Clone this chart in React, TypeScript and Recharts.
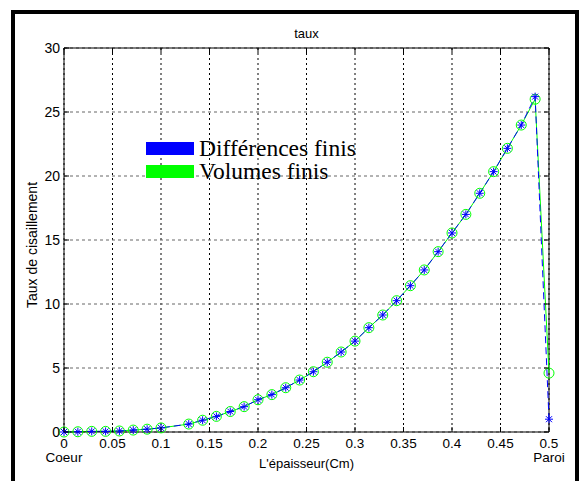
import { LineChart, Line, XAxis, YAxis, CartesianGrid, Legend, ReferenceLine } from "recharts";

// épaisseur (Cm) — the point at 0.114 is absent in the source figure
const epaisseur = [
  0, 0.0143, 0.0286, 0.0429, 0.0571, 0.0714, 0.0857, 0.1, 0.1286, 0.1429, 0.1571, 0.1714,
  0.1857, 0.2, 0.2143, 0.2286, 0.2429, 0.2571, 0.2714, 0.2857, 0.3, 0.3143, 0.3286, 0.3429,
  0.3571, 0.3714, 0.3857, 0.4, 0.4143, 0.4286, 0.4429, 0.4571, 0.4714, 0.4857, 0.5,
];
const differencesFinis = [
  0, 0.02, 0.05, 0.05, 0.08, 0.15, 0.22, 0.32, 0.62, 0.92, 1.22, 1.6,
  1.98, 2.52, 2.92, 3.46, 4.06, 4.71, 5.45, 6.25, 7.1, 8.15, 9.14, 10.26,
  11.43, 12.66, 14.09, 15.55, 17.0, 18.65, 20.34, 22.16, 23.98, 26.2, 1.0,
];
const volumesFinis = [
  0, 0.02, 0.05, 0.05, 0.08, 0.15, 0.22, 0.32, 0.62, 0.92, 1.22, 1.6,
  1.98, 2.52, 2.92, 3.46, 4.06, 4.71, 5.45, 6.25, 7.1, 8.15, 9.14, 10.26,
  11.43, 12.66, 14.09, 15.55, 17.0, 18.65, 20.34, 22.16, 23.98, 26.0, 4.6,
];
const xTicks = [0, 0.05, 0.1, 0.15, 0.2, 0.25, 0.3, 0.35, 0.4, 0.45, 0.5];
const yTicks = [0, 5, 10, 15, 20, 25, 30];
const xEndLabels: Record<string, string> = { "0": "Coeur", "0.5": "Paroi" };
const seriesNames = ["Différences finis", "Volumes finis"];

const data = epaisseur.map((x, i) => ({ x, df: differencesFinis[i], vf: volumesFinis[i] }));

const AXIS_FONT = "'Liberation Sans', Arial, sans-serif";
const PLOT_TOP = 48;
const PLOT_BOTTOM = 432;
const PLOT_RIGHT = 549;

const XTick = (props: any) => {
  const { x, payload } = props;
  const v = payload.value;
  const extra = xEndLabels[String(v)];
  return (
    <g>
      <line x1={x} x2={x} y1={PLOT_BOTTOM} y2={PLOT_BOTTOM - 5} stroke="#000" />
      <line x1={x} x2={x} y1={PLOT_TOP} y2={PLOT_TOP + 5} stroke="#000" />
      <text x={x} y={PLOT_BOTTOM + 16} textAnchor="middle" fontSize={13.5} fontFamily={AXIS_FONT} fill="#000">
        {String(v)}
      </text>
      {extra && (
        <text x={x} y={PLOT_BOTTOM + 30} textAnchor="middle" fontSize={13.5} fontFamily={AXIS_FONT} fill="#000">
          {extra}
        </text>
      )}
    </g>
  );
};

const YTick = (props: any) => {
  const { x, y, payload } = props;
  return (
    <g>
      <line x1={x} x2={x + 5} y1={y} y2={y} stroke="#000" />
      <line x1={PLOT_RIGHT} x2={PLOT_RIGHT - 5} y1={y} y2={y} stroke="#000" />
      <text x={x - 4} y={y + 5} textAnchor="end" fontSize={14} fontFamily={AXIS_FONT} fill="#000">
        {payload.value}
      </text>
    </g>
  );
};

const YLabel = (props: any) => {
  const { viewBox } = props;
  const cx = viewBox.x + 32;
  const cy = viewBox.y + viewBox.height / 2 + 5;
  return (
    <text
      x={cx}
      y={cy}
      transform={`rotate(-90, ${cx}, ${cy})`}
      textAnchor="middle"
      dominantBaseline="central"
      fontSize={14}
      fontFamily={AXIS_FONT}
      fill="#000"
    >
      Taux de cisaillement
    </text>
  );
};

const StarDot = (props: any) => {
  const { cx, cy } = props;
  if (cx == null || cy == null) return null;
  return (
    <g stroke="#0000ff" strokeWidth={1}>
      <line x1={cx - 4} x2={cx + 4} y1={cy} y2={cy} />
      <line x1={cx} x2={cx} y1={cy - 4} y2={cy + 4} />
      <line x1={cx - 3} x2={cx + 3} y1={cy - 3} y2={cy + 3} />
      <line x1={cx - 3} x2={cx + 3} y1={cy + 3} y2={cy - 3} />
    </g>
  );
};

const CircleDot = (props: any) => {
  const { cx, cy } = props;
  if (cx == null || cy == null) return null;
  return <circle cx={cx} cy={cy} r={5} fill="none" stroke="#00ff00" strokeWidth={1} />;
};

const LegendBox = () => {
  const colors = ["#0000ff", "#00ff00"];
  return (
    <div style={{ fontFamily: "'Liberation Serif', 'Times New Roman', serif", fontSize: 23.5, color: "#000" }}>
      {seriesNames.map((name, i) => (
        <div key={name} style={{ display: "flex", alignItems: "center", height: 23, whiteSpace: "nowrap" }}>
          <span style={{ display: "inline-block", width: 48, height: 13, background: colors[i], marginRight: 5 }} />
          <span style={{ lineHeight: "23px" }}>{name}</span>
        </div>
      ))}
    </div>
  );
};

export default function App() {
  return (
    <div style={{ position: "fixed", left: 0, top: 0, width: 582, height: 481, background: "#fff", overflow: "hidden" }}>
      <div
        style={{
          position: "absolute",
          left: 11,
          top: 10,
          width: 568,
          height: 490,
          border: "4px solid #000",
          boxSizing: "border-box",
        }}
      />
      <div style={{ position: "absolute", left: 0, top: 0 }}>
        <LineChart width={582} height={481} data={data} margin={{ top: 48, right: 33, bottom: 0, left: 0 }}>
          <CartesianGrid horizontal={false} stroke="#000" strokeDasharray="2 3" />
          <CartesianGrid vertical={false} stroke="#666" strokeDasharray="3 3" />
          <XAxis
            dataKey="x"
            type="number"
            domain={[0, 0.5]}
            ticks={xTicks}
            interval={0}
            height={49}
            tickSize={0}
            tickMargin={0}
            tickLine={false}
            axisLine={{ stroke: "#000" }}
            tick={<XTick />}
            label={{ value: "L'épaisseur(Cm)", position: "insideBottom", offset: 13, fontSize: 13, fontFamily: AXIS_FONT, fill: "#000" }}
          />
          <YAxis
            type="number"
            domain={[0, 30]}
            ticks={yTicks}
            interval={0}
            width={64}
            tickSize={0}
            tickMargin={0}
            tickLine={false}
            axisLine={{ stroke: "#000" }}
            tick={<YTick />}
            label={<YLabel />}
          />
          <ReferenceLine
            y={30}
            stroke="#000"
            label={{ value: "taux", position: "top", offset: 10, fontSize: 13, fontFamily: AXIS_FONT, fill: "#000" }}
          />
          <ReferenceLine x={0.5} stroke="#000" />
          <Legend
            layout="vertical"
            align="center"
            verticalAlign="middle"
            content={<LegendBox />}
            wrapperStyle={{ left: 146, top: 137, width: 240, height: 46 }}
          />
          <Line
            type="linear"
            dataKey="vf"
            name={seriesNames[1]}
            stroke="#00ff00"
            strokeWidth={1}
            dot={<CircleDot />}
            activeDot={false}
            isAnimationActive={false}
          />
          <Line
            type="linear"
            dataKey="df"
            name={seriesNames[0]}
            stroke="#0000ff"
            strokeWidth={1}
            strokeDasharray="7 4"
            dot={<StarDot />}
            activeDot={false}
            isAnimationActive={false}
          />
        </LineChart>
      </div>
    </div>
  );
}
